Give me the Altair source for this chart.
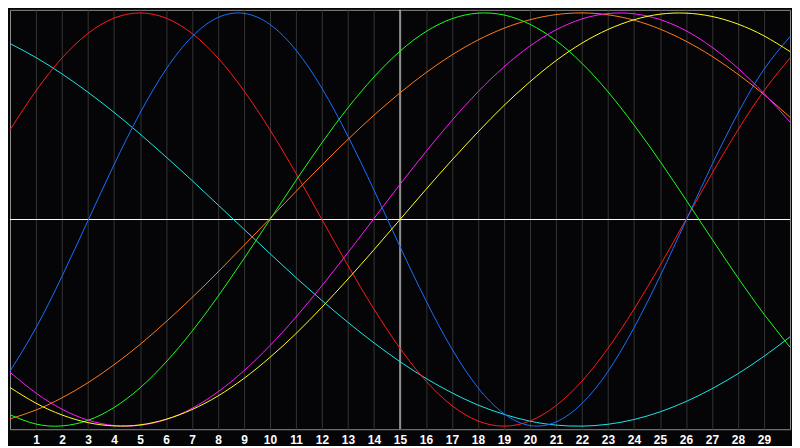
import altair as alt
import pandas as pd

days = list(range(0, 31))

red = [0.434, 0.623, 0.782, 0.901, 0.975, 1.0, 0.975, 0.901, 0.782, 0.623, 0.434,
       0.223, 0.0, -0.223, -0.434, -0.623, -0.782, -0.901, -0.975, -1.0, -0.975,
       -0.901, -0.782, -0.623, -0.434, -0.223, 0.0, 0.223, 0.434, 0.623, 0.782]
blue = [-0.734, -0.524, -0.275, -0.005, 0.265, 0.515, 0.727, 0.885, 0.978, 0.998, 0.944,
        0.820, 0.635, 0.403, 0.142, -0.131, -0.393, -0.627, -0.814, -0.940, -0.997,
        -0.980, -0.890, -0.735, -0.524, -0.275, -0.005, 0.265, 0.515, 0.727, 0.885]
green = [-0.945, -0.990, -0.999, -0.972, -0.910, -0.815, -0.690, -0.541, -0.372, -0.189, 0.0,
         0.189, 0.372, 0.541, 0.690, 0.815, 0.910, 0.972, 0.999, 0.990, 0.945,
         0.866, 0.756, 0.618, 0.458, 0.282, 0.095, -0.095, -0.282, -0.458, -0.618]
cyan = [0.852, 0.784, 0.705, 0.616, 0.519, 0.414, 0.303, 0.189, 0.071, -0.047, -0.165,
        -0.281, -0.392, -0.498, -0.597, -0.688, -0.769, -0.839, -0.898, -0.943, -0.976,
        -0.995, -1.000, -0.991, -0.968, -0.931, -0.881, -0.819, -0.746, -0.662, -0.568]
magenta = [-0.739, -0.840, -0.918, -0.971, -0.997, -0.996, -0.968, -0.914, -0.834, -0.732, -0.610,
           -0.472, -0.320, -0.160, 0.005, 0.170, 0.329, 0.480, 0.618, 0.739, 0.840,
           0.918, 0.971, 0.997, 0.996, 0.968, 0.914, 0.834, 0.732, 0.610, 0.472]
yellow = [-0.813, -0.889, -0.946, -0.983, -0.999, -0.994, -0.967, -0.920, -0.854, -0.769, -0.667,
          -0.552, -0.424, -0.288, -0.146, 0.0, 0.146, 0.288, 0.424, 0.552, 0.667,
          0.769, 0.854, 0.920, 0.967, 0.994, 0.999, 0.983, 0.946, 0.889, 0.813]
orange = [-0.965, -0.922, -0.863, -0.790, -0.703, -0.605, -0.495, -0.378, -0.254, -0.125, 0.005,
          0.136, 0.264, 0.388, 0.505, 0.613, 0.711, 0.797, 0.869, 0.926, 0.967,
          0.992, 1.000, 0.991, 0.965, 0.922, 0.863, 0.790, 0.703, 0.605, 0.495]

series_names = ["cyan", "red", "blue", "green", "orange", "magenta", "yellow"]
series_values = [cyan, red, blue, green, orange, magenta, yellow]
series_colors = ["#19e6e6", "#ff1a1a", "#1a6eff", "#1aff1a", "#ff7a1a", "#ff1aff", "#ffff1a"]

tick_labels = list(range(1, 30))
center_day = [15]
center_value = [0]

rows = []
for name, vals in zip(series_names, series_values):
    for d, v in zip(days, vals):
        rows.append({"day": d, "value": v, "series": name})
df = pd.DataFrame(rows)

xscale = alt.Scale(domain=[0, 30], nice=False, zero=False)
yscale = alt.Scale(domain=[-1.015, 1.015], nice=False, zero=False)

x_axis = alt.Axis(
    values=tick_labels,
    grid=True,
    gridColor="#343434",
    gridWidth=1,
    ticks=False,
    domain=False,
    labelColor="#ffffff",
    labelFont="Liberation Sans",
    labelFontWeight="bold",
    labelFontSize=12,
    labelPadding=5,
    title=None,
)

lines = alt.Chart(df).mark_line(strokeWidth=1, interpolate="natural").encode(
    x=alt.X("day:Q", scale=xscale, axis=x_axis),
    y=alt.Y("value:Q", scale=yscale, axis=None),
    color=alt.Color("series:N", scale=alt.Scale(domain=series_names, range=series_colors), legend=None),
)

vrule = alt.Chart(pd.DataFrame({"day": center_day})).mark_rule(color="#ffffff", strokeWidth=1).encode(
    x=alt.X("day:Q", scale=xscale, axis=x_axis)
)
hrule = alt.Chart(pd.DataFrame({"value": center_value})).mark_rule(color="#ffffff", strokeWidth=1).encode(
    y=alt.Y("value:Q", scale=yscale, axis=None)
)

chart = alt.layer(vrule, hrule, lines).properties(
    width=783,
    height=421,
    background="#050508",
    padding=0,
).configure_view(
    stroke="#8c8c8c",
    strokeWidth=1,
    fill="#050508",
)

chart.save("out.html", embed_options={"renderer": "svg", "actions": False})
